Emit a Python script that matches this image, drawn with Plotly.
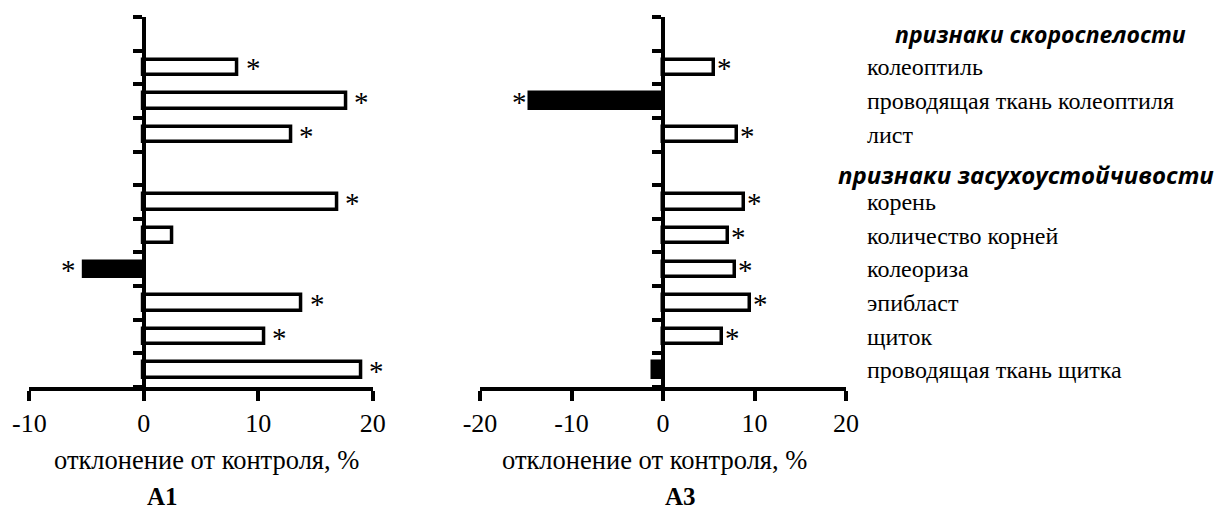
import plotly.graph_objects as go

# ---- data ----
header_early = "признаки скороспелости"
header_drought = "признаки засухоустойчивости"
early_traits = ["колеоптиль", "проводящая ткань колеоптиля", "лист"]
drought_traits = ["корень", "количество корней", "колеориза", "эпибласт", "щиток",
                  "проводящая ткань щитка"]

a1_early = [8.2, 17.7, 12.9]
a1_drought = [16.9, 2.5, -5.2, 13.8, 10.5, 19.0]
a1_sig_early = [True, True, True]
a1_sig_drought = [True, False, True, True, True, True]

a3_early = [5.6, -14.5, 8.1]
a3_drought = [8.8, 7.1, 7.9, 9.5, 6.4, -1.1]
a3_sig_early = [True, True, True]
a3_sig_drought = [True, True, True, True, True, False]

a1_ticks = [-10, 0, 10, 20]
a3_ticks = [-20, -10, 0, 10, 20]
axis_title = "отклонение от контроля, %"
panel_names = ["A1", "A3"]

# ---- layout of rows (top to bottom) ----
rows = [header_early] + early_traits + [header_drought] + drought_traits
n = len(rows)
ypos = {name: n - 1 - i for i, name in enumerate(rows)}
trait_names = early_traits + drought_traits
trait_y = [ypos[t] for t in trait_names]

W, H = 1217, 511
SERIF = "'Liberation Serif', 'Times New Roman', serif"
SANS = "'Open Sans', sans-serif"

panels = [
    dict(vals=a1_early + a1_drought, sig=a1_sig_early + a1_sig_drought,
         ticks=a1_ticks, dom=[29.3 / W, 372.7 / W], gap=6, xa="x", ya="y",
         title_x=206, name_x=162),
    dict(vals=a3_early + a3_drought, sig=a3_sig_early + a3_sig_drought,
         ticks=a3_ticks, dom=[480 / W, 846 / W], gap=1, xa="x2", ya="y2",
         title_x=654, name_x=680),
]

ydom = [1 - 387 / H, 1 - 17 / H]

fig = go.Figure()
annotations = []
for k, p in enumerate(panels):
    vals = p["vals"]
    fig.add_trace(go.Bar(
        x=vals, y=trait_y, orientation="h", width=0.46,
        marker=dict(color=["white" if v >= 0 else "black" for v in vals],
                    line=dict(color="black", width=3.5)),
        xaxis=p["xa"], yaxis=p["ya"], showlegend=False, hoverinfo="skip"))
    for v, y, s in zip(vals, trait_y, p["sig"]):
        if s:
            annotations.append(dict(
                x=v, y=y, xref=p["xa"], yref=p["ya"], text="*", showarrow=False,
                xanchor="left" if v >= 0 else "right",
                xshift=p["gap"] if v >= 0 else -p["gap"], yshift=-1,
                font=dict(family=SERIF, size=29, color="black")))
    xmin, xmax = p["ticks"][0], p["ticks"][-1]
    d0, d1 = p["dom"]
    zero_pos = d0 + (0 - xmin) / (xmax - xmin) * (d1 - d0)
    suffix = "" if k == 0 else "2"
    fig.update_layout(**{
        "xaxis" + suffix: dict(
            domain=p["dom"], range=[xmin, xmax], anchor=p["ya"], automargin=False,
            tickvals=p["ticks"], ticktext=[str(t) for t in p["ticks"]],
            ticks="outside", ticklen=10, tickwidth=4,
            tickcolor="black", showline=True, linewidth=4, linecolor="black",
            showgrid=False, zeroline=False,
            tickfont=dict(family=SERIF, size=26, color="black")),
        "yaxis" + suffix: dict(
            domain=ydom, range=[-0.5, n - 0.5], anchor="free", position=zero_pos,
            automargin=False,
            tickvals=[i - 0.5 for i in range(n + 1)], ticks="outside", ticklen=9,
            tickwidth=4, tickcolor="black", showticklabels=False,
            showline=True, linewidth=4, linecolor="black",
            showgrid=False, zeroline=False),
    })
    annotations.append(dict(x=p["title_x"] / W, y=1 - 460 / H, xref="paper", yref="paper",
                            xanchor="center", yanchor="middle",
                            text=axis_title, showarrow=False,
                            font=dict(family=SERIF, size=26.5, color="black")))
    annotations.append(dict(x=p["name_x"] / W, y=0, borderpad=0,
                            xref="paper", yref="paper", xanchor="center", yanchor="bottom",
                            text="<b>" + panel_names[k] + "</b>", showarrow=False,
                            font=dict(family=SERIF, size=25, color="black")))

# right-hand category labels
for t in trait_names:
    annotations.append(dict(x=865 / W, y=ypos[t], xref="paper", yref="y",
                            text=t, showarrow=False, xanchor="left",
                            font=dict(family=SERIF, size=24, color="black")))
annotations.append(dict(x=1188 / W, y=ypos[header_early], xref="paper", yref="y",
                        text="<b><i>" + header_early + "</i></b>", showarrow=False,
                        xanchor="right",
                        font=dict(family=SANS, size=23, color="black")))
annotations.append(dict(x=1216 / W, y=ypos[header_drought], xref="paper", yref="y",
                        yshift=-6,
                        text="<b><i>" + header_drought + "</i></b>", showarrow=False,
                        xanchor="right",
                        font=dict(family=SANS, size=24, color="black")))

fig.update_layout(width=W, height=H, margin=dict(l=0, r=0, t=0, b=0),
                  paper_bgcolor="white", plot_bgcolor="rgba(0,0,0,0)",
                  annotations=annotations, bargap=0)
fig.write_html("out.html", config={"displayModeBar": False},
               post_script="document.body.style.margin='0';document.body.style.overflow='hidden';")
